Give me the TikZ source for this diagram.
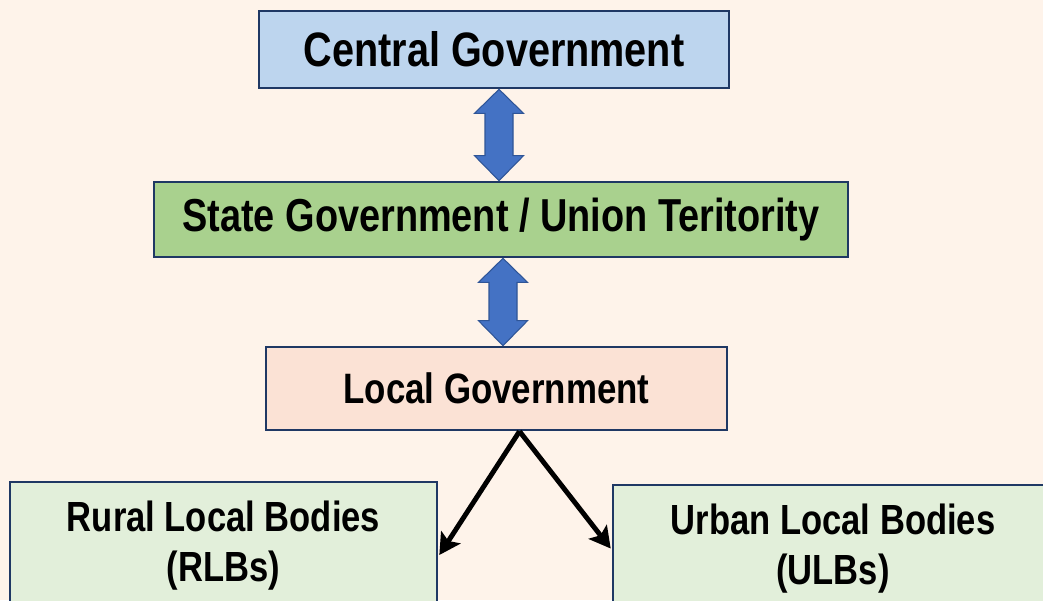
\documentclass[tikz,border=0pt]{standalone}
\usepackage{fontspec}
\setmainfont{Liberation Sans}[FakeStretch=0.82]
\usetikzlibrary{arrows.meta,calc}

\definecolor{bgpeach}{HTML}{FEF3EA}
\definecolor{boxline}{HTML}{1F3864}
\definecolor{centralblue}{HTML}{BDD5EE}
\definecolor{stategreen}{HTML}{A9D18E}
\definecolor{localpeach}{HTML}{FBE2D5}
\definecolor{bodygreen}{HTML}{E2EFDA}
\definecolor{arrowblue}{HTML}{4472C4}
\definecolor{arrowline}{HTML}{2F5597}

\begin{document}
\begin{tikzpicture}[x=0.02cm, y=-0.02cm,
    govbox/.style={draw=boxline, line width=1.5pt, inner sep=0pt, font=\bfseries, align=center},
    blockarr/.style={fill=arrowblue, draw=arrowline, line width=0.6pt, line join=miter},
    splitarr/.style={line width=2.8pt, -{Stealth[length=12pt, width=13pt, inset=2.5pt]}}]
    \useasboundingbox (0,0) rectangle (1043,600);
    \fill[bgpeach] (0,0) rectangle (1043,600);

    \node (cg) at (494, 49.5) [govbox, fill=centralblue, minimum width=470*0.02cm, minimum height=77*0.02cm,
        font=\bfseries\fontsize{27.5}{30}\selectfont] {Central Government};
    \node (sg) at (501, 219.5) [govbox, fill=stategreen, minimum width=694*0.02cm, minimum height=75*0.02cm,
        font=\bfseries\fontsize{26.3}{30}\selectfont] {State Government / Union Teritority};
    \node (lg) at (496.5, 388.5) [govbox, fill=localpeach, minimum width=461*0.02cm, minimum height=83*0.02cm,
        font=\bfseries\fontsize{24.2}{28}\selectfont] {Local Government};

    \node (rb) at (223.5, 546) [govbox, fill=bodygreen, minimum width=427*0.02cm, minimum height=128*0.02cm,
        font=\bfseries\fontsize{24}{28.5}\selectfont] {Rural Local Bodies\\(RLBs)};
    \node (ub) at (833, 548.5) [govbox, fill=bodygreen, minimum width=440*0.02cm, minimum height=127*0.02cm,
        font=\bfseries\fontsize{24}{28.5}\selectfont] {Urban Local Bodies\\(ULBs)};

    % two-way links
    \coordinate (t1) at ($(cg.south)+(5,0)$);
    \coordinate (b1) at (sg.north -| t1);
    \coordinate (t2) at ($(sg.south)+(2,0)$);
    \coordinate (b2) at (lg.north -| t2);
    \foreach \a/\b in {t1/b1, t2/b2}
        \draw[blockarr] (\a) -- ($(\a)+(24.5,24)$) -- ($(\a)+(14,24)$) -- ($(\b)+(14,-25)$)
            -- ($(\b)+(24.5,-25)$) -- (\b) -- ($(\b)+(-24.5,-25)$) -- ($(\b)+(-14,-25)$)
            -- ($(\a)+(-14,24)$) -- ($(\a)+(-24.5,24)$) -- cycle;

    % split into bodies
    \coordinate (apex) at ($(lg.south)+(23,0)$);
    \draw[splitarr] (apex) -- ($(rb.east)+(1,9)$);
    \draw[splitarr] (apex) -- ($(ub.west)+(-1,0)$);
\end{tikzpicture}
\end{document}
